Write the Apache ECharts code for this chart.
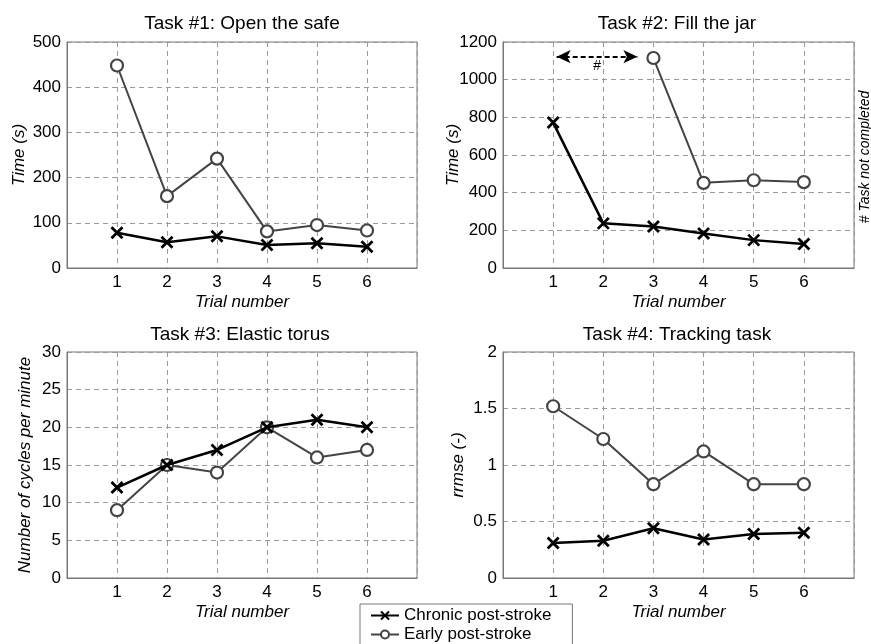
<!DOCTYPE html>
<html>
<head>
<meta charset="utf-8">
<script src="https://cdn.jsdelivr.net/npm/echarts@6/dist/echarts.min.js"></script>
<style>
  html, body { margin: 0; padding: 0; background: #fff; }
  #chart { width: 871px; height: 644px; }
</style>
</head>
<body>
<div id="chart"></div>
<script>
// ---- data ----
var trials = [1, 2, 3, 4, 5, 6];
var seriesNames = ['Chronic post-stroke', 'Early post-stroke'];
var titles = ['Task #1: Open the safe', 'Task #2: Fill the jar', 'Task #3: Elastic torus', 'Task #4: Tracking task'];
var yNames = ['Time (s)', 'Time (s)', 'Number of cycles per minute', 'rrmse (-)'];
var xName = 'Trial number';

var safeChronic = [78, 57, 70, 51, 55, 47];
var safeEarly = [448, 159, 242, 81, 95, 83];
var jarChronic = [772, 237, 220, 183, 148, 128];
var jarEarly = [null, null, 1115, 452, 466, 456];
var torusChronic = [12, 15, 17, 20, 21, 20];
var torusEarly = [9, 15, 14, 20, 16, 17];
var trackChronic = [0.31, 0.33, 0.44, 0.34, 0.39, 0.40];
var trackEarly = [1.52, 1.23, 0.83, 1.12, 0.83, 0.83];

var yMax = [500, 1200, 30, 2];
var yInterval = [100, 200, 5, 0.5];

// annotation: task not completed range (trial coordinate span, value level)
var notCompletedSpan = [1.07, 2.68];
var notCompletedLevel = 1122;
var notCompletedLabel = '#';
var sideNote = '# Task not completed';

// ---- layout/style ----
var FONT = "'Liberation Sans', Arial, Helvetica, sans-serif";
var grids = [
  { left: 67, top: 42, width: 350, height: 226 },
  { left: 503, top: 42, width: 351, height: 226 },
  { left: 67, top: 352, width: 350, height: 226 },
  { left: 503, top: 352, width: 351, height: 226 }
];
var yNameGaps = [39, 41, 33, 36];
var titleCenters = [[242, 14], [677, 14], [240, 325], [677, 325]];

function pairs(vals) {
  var out = [];
  for (var i = 0; i < trials.length; i++) {
    if (vals[i] !== null) out.push([trials[i], vals[i]]);
  }
  return out;
}

var chronicSets = [safeChronic, jarChronic, torusChronic, trackChronic];
var earlySets = [safeEarly, jarEarly, torusEarly, trackEarly];

var xAxes = [], yAxes = [], series = [], titleArr = [];
grids.forEach(function (g, i) {
  g.show = true;
  g.borderColor = '#777';
  g.borderWidth = 1;
  g.containLabel = false;
  xAxes.push({
    type: 'value', gridIndex: i, min: 0, max: 7, interval: 1,
    name: xName, nameLocation: 'middle', nameGap: 26, nameMoveOverlap: false,
    nameTextStyle: { fontFamily: FONT, fontSize: 17, fontStyle: 'italic', color: '#000' },
    axisLine: { show: true, lineStyle: { color: '#777', width: 1 } },
    axisTick: { show: false },
    axisLabel: {
      fontFamily: FONT, fontSize: 17, color: '#000', margin: 6,
      formatter: function (v) { return (v >= 1 && v <= 6) ? String(v) : ''; }
    },
    splitLine: { show: true, lineStyle: { color: '#9a9a9a', type: [5, 4], width: 1 } }
  });
  yAxes.push({
    type: 'value', gridIndex: i, min: 0, max: yMax[i], interval: yInterval[i],
    name: yNames[i], nameLocation: 'middle', nameGap: yNameGaps[i], nameMoveOverlap: false,
    nameTextStyle: { fontFamily: FONT, fontSize: 17, fontStyle: 'italic', color: '#000' },
    axisLine: { show: true, lineStyle: { color: '#777', width: 1 } },
    axisTick: { show: false },
    axisLabel: {
      fontFamily: FONT, fontSize: 17, color: '#000', margin: 6,
      formatter: function (v) { return String(v); }
    },
    splitLine: { show: true, lineStyle: { color: '#9a9a9a', type: [5, 4], width: 1 } }
  });
  titleArr.push({
    text: titles[i], left: titleCenters[i][0], top: titleCenters[i][1], textAlign: 'center', padding: 0,
    textStyle: { fontFamily: FONT, fontSize: 19, fontWeight: 'normal', color: '#000' }
  });
  var chronic = {
    name: seriesNames[0], type: 'line', xAxisIndex: i, yAxisIndex: i,
    data: pairs(chronicSets[i]),
    symbol: 'path://M0,0L10,10M10,0L0,10', symbolSize: 11, symbolKeepAspect: true,
    itemStyle: { color: '#000', borderColor: '#000', borderWidth: 2.8 },
    lineStyle: { color: '#000', width: 2.5 },
    z: 3
  };
  if (i === 1) {
    chronic.markLine = {
      silent: true, animation: false,
      symbol: ['arrow', 'arrow'], symbolSize: [10, 14],
      lineStyle: { color: '#000', type: [5, 3], width: 2 },
      label: {
        show: true, position: 'insideMiddleBottom', formatter: notCompletedLabel, distance: 2,
        fontFamily: FONT, fontSize: 14, fontStyle: 'italic', color: '#000'
      },
      data: [[
        { coord: [notCompletedSpan[0], notCompletedLevel] },
        { coord: [notCompletedSpan[1], notCompletedLevel] }
      ]]
    };
  }
  series.push(chronic);
  series.push({
    name: seriesNames[1], type: 'line', xAxisIndex: i, yAxisIndex: i,
    data: pairs(earlySets[i]),
    symbol: 'circle', symbolSize: 12,
    itemStyle: { color: '#fff', borderColor: '#444', borderWidth: 2.2 },
    lineStyle: { color: '#444', width: 2 },
    z: 2
  });
});

var chart = echarts.init(document.getElementById('chart'), null, { renderer: 'canvas' });
chart.setOption({
  animation: false,
  backgroundColor: '#fff',
  title: titleArr,
  grid: grids,
  xAxis: xAxes,
  yAxis: yAxes,
  series: series,
  legend: {
    data: seriesNames,
    orient: 'vertical', left: 360, top: 604, height: 120,
    itemWidth: 28, itemHeight: 10, itemGap: 2,
    padding: [3, 21, 8, 10],
    borderColor: '#777', borderWidth: 1, backgroundColor: '#fff',
    textStyle: { fontFamily: FONT, fontSize: 17, color: '#000' },
    selectedMode: false
  },
  graphic: [{
    type: 'text', x: 865, y: 157, rotation: Math.PI / 2,
    style: {
      text: sideNote, fontFamily: FONT, fontSize: 14, fontStyle: 'italic', fill: '#000',
      align: 'center', verticalAlign: 'middle'
    }
  }]
});
</script>
</body>
</html>
